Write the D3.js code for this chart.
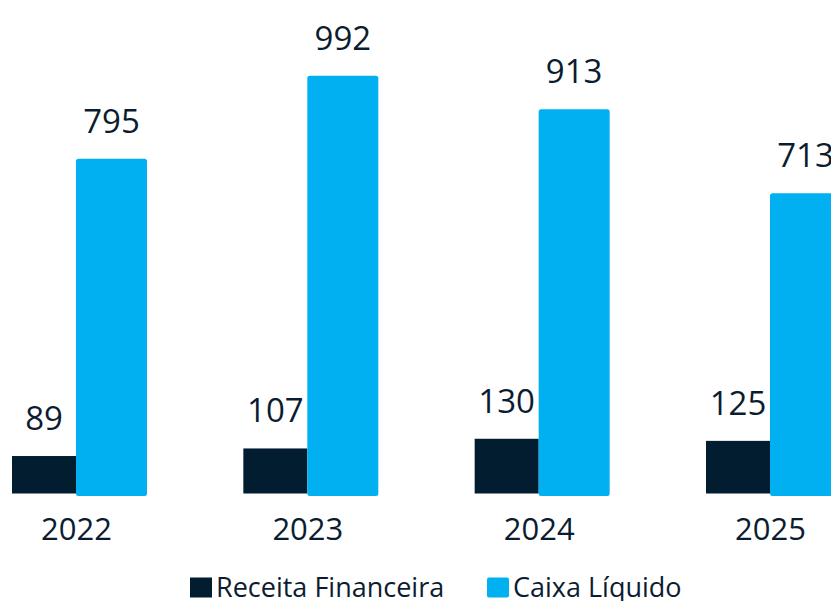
<!DOCTYPE html>
<html>
<head>
<meta charset="utf-8">
<script src="https://cdn.jsdelivr.net/npm/d3@7"></script>
<style>
  html, body { margin: 0; padding: 0; background: #ffffff; }
  svg { display: block; }
  text { font-family: "Open Sans", "Noto Sans", sans-serif; fill: #0c1c30; }
</style>
</head>
<body>
<svg id="chart" width="831" height="601"></svg>
<script>
const years = ["2022", "2023", "2024", "2025"];
const receitaFinanceira = [89, 107, 130, 125];
const caixaLiquido = [795, 992, 913, 713];
const seriesNames = ["Receita Financeira", "Caixa Líquido"];
const colors = ["#021c30", "#00b0f0"];

const svg = d3.select("#chart");
const baseY = 493.5;
const x = d3.scalePoint().domain(years).range([76, 770]);
const y = d3.scaleLinear().domain([0, 1000]).range([baseY, baseY - 421]);
const darkW = 64, blueW = 71;

// dark bars
svg.append("g").selectAll("rect").data(years).join("rect")
  .attr("x", d => x(d) - darkW)
  .attr("y", (d, i) => y(receitaFinanceira[i]))
  .attr("width", darkW)
  .attr("height", (d, i) => baseY - y(receitaFinanceira[i]))
  .attr("fill", colors[0]);

// blue bars (slightly rounded)
svg.append("g").selectAll("rect").data(years).join("rect")
  .attr("x", d => x(d))
  .attr("y", (d, i) => y(caixaLiquido[i]))
  .attr("width", blueW)
  .attr("height", (d, i) => baseY - y(caixaLiquido[i]) + 2.5)
  .attr("rx", 2.5)
  .attr("fill", colors[1]);

// value labels
const vfs = 33;
svg.append("g").selectAll("text").data(years).join("text")
  .attr("x", d => x(d) - darkW / 2)
  .attr("y", (d, i) => y(receitaFinanceira[i]) - 26)
  .attr("text-anchor", "middle")
  .style("font-size", vfs + "px")
  .text((d, i) => receitaFinanceira[i]);

svg.append("g").selectAll("text").data(years).join("text")
  .attr("x", d => x(d) + blueW / 2)
  .attr("y", (d, i) => y(caixaLiquido[i]) - 26)
  .attr("text-anchor", "middle")
  .style("font-size", vfs + "px")
  .text((d, i) => caixaLiquido[i]);

// x axis labels
const xAxis = d3.axisBottom(x).tickSize(0).tickPadding(0);
const gx = svg.append("g").attr("transform", `translate(0, ${baseY})`).call(xAxis);
gx.select(".domain").remove();
gx.selectAll("text")
  .attr("dy", null)
  .attr("y", 46.5)
  .style("font-size", "31px")
  .style("font-family", '"Open Sans", "Noto Sans", sans-serif')
  .attr("fill", "#0c1c30");

// legend
const legendX = [190, 487];
const lg = svg.append("g").selectAll("g").data(seriesNames).join("g")
  .attr("transform", (d, i) => `translate(${legendX[i]}, 577.5)`);
lg.append("rect")
  .attr("width", 22).attr("height", 20)
  .attr("rx", (d, i) => i === 1 ? 2 : 0)
  .attr("fill", (d, i) => colors[i]);
lg.append("text")
  .attr("x", 26).attr("y", 19.5)
  .style("font-size", "27px")
  .text(d => d);
</script>
</body>
</html>
